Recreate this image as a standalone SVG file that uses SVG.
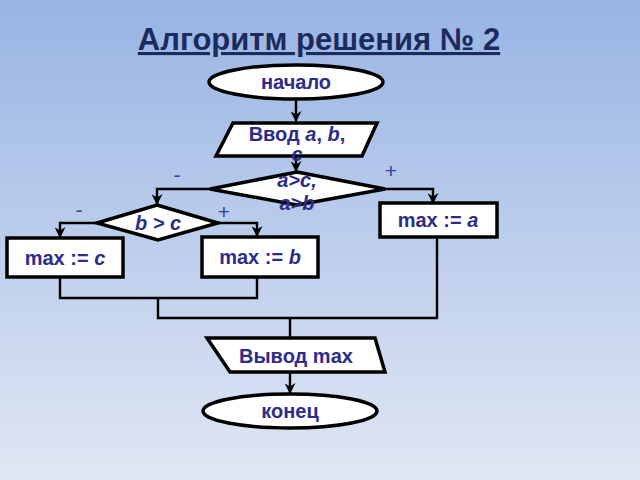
<svg xmlns="http://www.w3.org/2000/svg" width="640" height="480" viewBox="0 0 640 480">
<defs>
<linearGradient id="bg" x1="0" y1="0" x2="0" y2="1">
<stop offset="0" stop-color="#98b4e4"/>
<stop offset="1" stop-color="#e0e7f4"/>
</linearGradient>
<marker id="arr" viewBox="0 0 10 10" refX="9" refY="5" markerWidth="11" markerHeight="11" orient="auto" markerUnits="userSpaceOnUse">
<path d="M0,0 L10,5 L0,10 L3,5 Z" fill="#000"/>
</marker>
<style>
.shape{fill:#fff;stroke:#000;stroke-width:3.5}
.t{font-family:"Liberation Sans",Arial,sans-serif;font-weight:bold;font-size:20px;fill:#2d2c88;text-anchor:middle}
.i{font-style:italic}
.sign{font-family:"Liberation Sans",Arial,sans-serif;font-size:21px;fill:#3a3fa0;text-anchor:middle}
.c{fill:none;stroke:#000;stroke-width:2.4}
</style>
</defs>
<rect width="640" height="480" fill="url(#bg)"/>
<text x="319" y="50" font-family="Liberation Sans,Arial,sans-serif" font-weight="bold" font-size="31" fill="#1c2b5e" text-anchor="middle" text-decoration="underline">Алгоритм решения № 2</text>

<g id="connectors">
<path class="c" d="M296,99 V121" marker-end="url(#arr)"/>
<path class="c" d="M296,156 V171" marker-end="url(#arr)"/>
<path class="c" d="M210,189 H157 V204" marker-end="url(#arr)"/>
<path class="c" d="M385,189 H433 V203" marker-end="url(#arr)"/>
<path class="c" d="M97,223 H60 V237" marker-end="url(#arr)"/>
<path class="c" d="M218,223 H257 V236" marker-end="url(#arr)"/>
<path class="c" d="M60,278 V298 H257 V278"/>
<path class="c" d="M158,298 V318 H437 V238"/>
<path class="c" d="M290,318 V337"/>
<path class="c" d="M290,373 V393" marker-end="url(#arr)"/>
</g>

<g id="start">
<ellipse class="shape" cx="296" cy="82" rx="87" ry="17"/>
<text class="t" x="296" y="89">начало</text>
</g>
<g id="input">
<polygon class="shape" points="233,123 377,123 362,156 216,156"/>
<text class="t" x="297" y="141">Ввод <tspan class="i">a</tspan>, <tspan class="i">b</tspan>,</text>
<text class="t i" x="297" y="161">c</text>
</g>
<g id="cond1">
<polygon class="shape" points="297,172 385,189 297,205 210,189"/>
<text class="t i" x="297" y="187">a&gt;c,</text>
<text class="t i" x="297" y="210">a&gt;b</text>
<text class="sign" x="177" y="182">-</text>
<text class="sign" x="391" y="178">+</text>
</g>
<g id="cond2">
<polygon class="shape" points="157,205 218,223 158,240 97,223"/>
<text class="t i" x="158" y="230">b &gt; c</text>
<text class="sign" x="79" y="217">-</text>
<text class="sign" x="224" y="219">+</text>
</g>
<g id="maxc">
<rect class="shape" x="7" y="238" width="116" height="39"/>
<text class="t" x="65" y="265">max := <tspan class="i">c</tspan></text>
</g>
<g id="maxb">
<rect class="shape" x="202" y="237" width="116" height="40"/>
<text class="t" x="260" y="264">max := <tspan class="i">b</tspan></text>
</g>
<g id="maxa">
<rect class="shape" x="380" y="203" width="117" height="34"/>
<text class="t" x="438" y="227">max := <tspan class="i">a</tspan></text>
</g>
<g id="output">
<polygon class="shape" points="207,338 375,338 385,372 230,372"/>
<text class="t" x="296" y="363" font-size="21">Вывод max</text>
</g>
<g id="end">
<ellipse class="shape" cx="290" cy="411" rx="87" ry="17"/>
<text class="t" x="290" y="418">конец</text>
</g>
</svg>
